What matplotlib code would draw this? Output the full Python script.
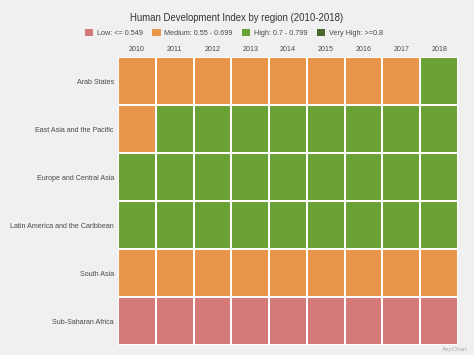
import numpy as np
import matplotlib.pyplot as plt
from matplotlib.colors import ListedColormap
from matplotlib.patches import Patch

plt.rcParams['font.family'] = ['Liberation Sans', 'DejaVu Sans']

# HDI level per region and year: 0 low, 1 medium, 2 high, 3 very high
years = ['2010', '2011', '2012', '2013', '2014', '2015', '2016', '2017', '2018']
regions = ['Arab States', 'East Asia and the Pacific', 'Europe and Central Asia',
           'Latin America and the Caribbean', 'South Asia', 'Sub-Saharan Africa']
arab_states = [1, 1, 1, 1, 1, 1, 1, 1, 2]
east_asia = [1, 2, 2, 2, 2, 2, 2, 2, 2]
europe_central_asia = [2, 2, 2, 2, 2, 2, 2, 2, 2]
latin_america = [2, 2, 2, 2, 2, 2, 2, 2, 2]
south_asia = [1, 1, 1, 1, 1, 1, 1, 1, 1]
sub_saharan = [0, 0, 0, 0, 0, 0, 0, 0, 0]
level_labels = ['Low: <= 0.549', 'Medium: 0.55 - 0.699', 'High: 0.7 - 0.799', 'Very High: >=0.8']
level_colors = ['#d57a78', '#e9964a', '#6ba236', '#4d6630']

grid = np.array([arab_states, east_asia, europe_central_asia,
                 latin_america, south_asia, sub_saharan])

fig = plt.figure(figsize=(4.74, 3.55), dpi=100)
fig.patch.set_facecolor('#f0f0f0')
ax = fig.add_axes([118/474, 10/355, 340/474, 288/355])
ax.set_facecolor('#f0f0f0')

cmap = ListedColormap(level_colors)
ax.pcolormesh(grid, cmap=cmap, vmin=-0.5, vmax=3.5, edgecolors='white', linewidth=1.2)
ax.set_xlim(0, len(years))
ax.set_ylim(len(regions), 0)

ax.set_xticks(np.arange(len(years)) + 0.5)
ax.set_xticklabels(years)
ax.set_yticks(np.arange(len(regions)) + 0.5)
ax.set_yticklabels(regions)
ax.xaxis.tick_top()
ax.tick_params(length=0, labelsize=5.1, labelcolor='#4a4a4a', pad=3)
for s in ax.spines.values():
    s.set_visible(False)

fig.text(0.5, 1 - 18/355, 'Human Development Index by region (2010-2018)',
         ha='center', va='center', fontsize=6.9, color='#333333')

handles = [Patch(facecolor=c, edgecolor='none') for c in level_colors]
fig.legend(handles, level_labels, loc='center', bbox_to_anchor=(234/474, 1 - 33/355),
           ncol=4, frameon=False, fontsize=5.2, handlelength=1.15, handleheight=1.15,
           handletextpad=0.5, columnspacing=1.3, labelcolor='#4a4a4a')

fig.text(1 - 6/474, 6/355, 'AnyChart', ha='right', va='center', fontsize=4.5, color='#aaaaaa')

fig.savefig('out.png', dpi=100, facecolor=fig.get_facecolor())
